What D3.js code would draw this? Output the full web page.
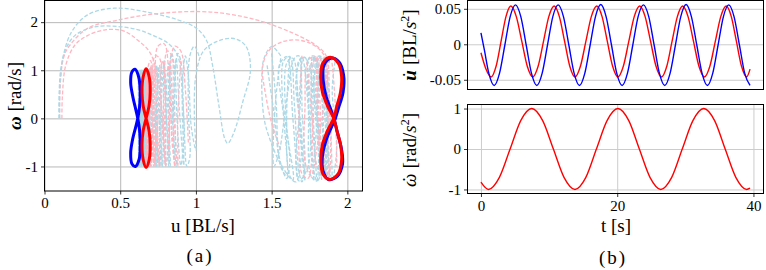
<!DOCTYPE html>
<html>
<head>
<meta charset="utf-8">
<script src="https://cdn.jsdelivr.net/npm/d3@7"></script>
<style>
  body { margin: 0; background: #fff; }
  svg text { font-family: "Liberation Serif", "Times New Roman", serif; fill: #000; }
</style>
</head>
<body>
<div id="chart"></div>
<script>
// ---------- (a) phase plane u - omega ----------
var xTicksA = [0, 0.5, 1, 1.5, 2];
var xTickLabelsA = ["0", "0.5", "1", "1.5", "2"];
var yTicksA = [-1, 0, 1, 2];
var yTickLabelsA = ["-1", "0", "1", "2"];

// limit cycles (u, omega)
var blueLeft8 = [[0.616,0],[0.628,-0.25],[0.632,-0.55],[0.625,-0.85],[0.6,-1.0],[0.578,-0.95],[0.569,-0.72],[0.583,-0.42],[0.603,-0.17],
                 [0.616,0],[0.628,0.25],[0.632,0.55],[0.622,0.86],[0.598,1.02],[0.577,0.96],[0.569,0.74],[0.584,0.44],[0.603,0.18]];
var redLeft8 = [[0.671,0],[0.69,-0.25],[0.698,-0.55],[0.692,-0.85],[0.671,-1.02],[0.651,-0.85],[0.644,-0.55],[0.652,-0.25],
                [0.671,0],[0.69,0.25],[0.698,0.55],[0.692,0.85],[0.671,1.03],[0.651,0.85],[0.644,0.55],[0.652,0.25]];
var blueRight8 = [[1.915,-0.05],[1.935,-0.3],[1.962,-0.65],[1.968,-0.95],[1.935,-1.2],[1.875,-1.27],[1.84,-1.1],[1.835,-0.8],[1.86,-0.45],[1.895,-0.18],
                  [1.915,-0.05],[1.94,0.2],[1.972,0.55],[1.975,0.9],[1.945,1.17],[1.89,1.25],[1.845,1.1],[1.84,0.8],[1.86,0.45],[1.895,0.15]];
var redRight8 = [[1.91,0],[1.93,-0.25],[1.955,-0.55],[1.962,-0.87],[1.94,-1.15],[1.883,-1.27],[1.838,-1.15],[1.825,-0.85],[1.835,-0.55],[1.87,-0.25],
                 [1.91,0],[1.93,0.25],[1.955,0.55],[1.962,0.87],[1.94,1.15],[1.886,1.27],[1.838,1.15],[1.824,0.85],[1.835,0.55],[1.87,0.25]];

// transients (dashed)
var blueTrans1 = [[0.095,0],[0.097,0.55],[0.11,1.07],[0.174,1.77],[0.284,2.15],[0.46,2.29],[0.658,2.22],[0.878,2.05],[1.0,1.88],[1.07,1.62],
  [1.11,1.1],[1.15,0.3],[1.19,-0.42],[1.21,-0.52],[1.25,-0.3],[1.31,0.35],[1.36,1.0],[1.33,1.5],[1.25,1.66],[1.14,1.6],[1.05,1.4],[1.0,0.9],
  [0.99,0],[1.0,-0.66],[0.97,-0.2],[0.95,0.9],[0.93,1.3],[0.91,0.6],[0.92,-0.98],[0.89,0.2],[0.87,1.25],[0.85,0],[0.86,-1.0],[0.83,1.2],
  [0.82,-1.0],[0.79,1.12],[0.78,-1.0],[0.75,1.08],[0.74,-1.0],[0.71,1.04],[0.705,-1.0],[0.685,1.02],[0.68,-1.0],[0.665,1.0],[0.66,-1.0],
  [0.648,1.0],[0.645,-1.0],[0.635,1.0]];
var blueTrans2 = [[0.1,0],[0.103,0.7],[0.13,1.35],[0.2,1.72],[0.33,1.9],[0.48,1.91],[0.62,1.84],[0.72,1.72],[0.82,1.55],[0.88,1.3],[0.91,0.5],
  [0.92,-0.4],[0.9,-0.98],[0.88,-0.3],[0.86,1.0],[0.84,1.35],[0.82,0.8],[0.83,-1.0],[0.8,0.3],[0.79,1.2],[0.77,0.2],[0.77,-1.0],[0.74,1.1],
  [0.73,-1.0],[0.7,1.06],[0.695,-1.0],[0.675,1.02],[0.67,-1.0],[0.655,1.0],[0.652,-1.0],[0.64,1.0],[0.638,-1.0],[0.628,1.0]];
var blueTrans3 = [[0.66,1.0],[0.655,-1.0],[0.645,1.0],[0.64,-1.0],[0.635,1.0],[0.63,-1.0],[0.625,1.0],[0.622,-1.0],[0.62,1.0]];
var blueTrans4 = [[1.56,1.3],[1.5,1.49],[1.45,1.25],[1.435,0.8],[1.45,0],[1.49,-0.45],[1.56,-0.95],[1.64,-1.28],[1.6,-0.2],[1.6,1.15],
  [1.64,1.25],[1.68,0.2],[1.72,-1.3],[1.68,0],[1.68,1.2],[1.72,1.27],[1.75,0],[1.78,-1.3],[1.75,0],[1.75,1.27],[1.79,1.28],[1.8,0],
  [1.83,-1.28],[1.8,0],[1.8,1.28],[1.84,1.26],[1.86,0],[1.87,-1.27]];
var blueTrans5 = [[1.5,1.35],[1.53,0.3],[1.55,-0.8],[1.6,-1.25],[1.62,-0.9],[1.57,0.5],[1.58,1.2],[1.62,1.28],[1.65,0.3],[1.68,-1.1],
  [1.7,-1.32],[1.72,-1.0],[1.7,0.3],[1.71,1.27],[1.75,1.1],[1.78,-0.3],[1.8,-1.28],[1.81,-0.9],[1.78,0.5],[1.78,1.28],[1.82,1.0],
  [1.84,-0.6],[1.86,-1.27],[1.86,-0.5],[1.84,0.8],[1.85,1.27],[1.88,0.5],[1.9,-1.26]];
var blueTrans6 = [[1.56,1.25],[1.53,0.5],[1.51,-0.6],[1.515,-1.0],[1.55,-0.7],[1.6,0.4],[1.65,1.25],[1.68,1.3],[1.69,0.4],[1.66,-0.9],
  [1.68,-1.3],[1.74,-1.0],[1.76,0.3],[1.77,1.28],[1.8,1.1],[1.8,0],[1.78,-1.1],[1.8,-1.3],[1.85,-0.9],[1.86,0.4],[1.84,1.26]];
var blueTrans7 = [[1.02,1.3],[0.99,1.5],[0.96,1.3],[0.95,0.2],[0.96,-0.8],[0.94,-1.0],[0.92,0],[0.9,1.2],[0.88,1.35],[0.86,0.5],[0.87,-1.0],
  [0.84,0.2],[0.82,1.15],[0.8,0.2],[0.8,-1.0],[0.77,0.3],[0.76,1.1],[0.74,0.2],[0.75,-1.0],[0.72,0.3],[0.71,1.05],[0.695,0],[0.7,-1.0],
  [0.68,0.2],[0.675,1.0],[0.66,0],[0.665,-1.0],[0.65,0],[0.645,1.0]];
var blueTrans8 = [[1.62,1.3],[1.6,0.2],[1.62,-1.2],[1.66,-1.32],[1.7,-0.5],[1.66,0.8],[1.7,1.28],[1.74,0.3],[1.76,-1.2],[1.8,-1.3],
  [1.82,-0.6],[1.78,0.8],[1.82,1.28],[1.86,0.6],[1.88,-1.0],[1.9,-1.27],[1.93,-0.6],[1.9,0.6],[1.92,1.2]];
var blueTrans9 = [[1.47,1.1],[1.52,0],[1.56,-1.0],[1.6,-1.2],[1.58,0],[1.55,1.1],[1.6,1.28],[1.64,0],[1.67,-1.25]];

var pinkTrans1 = [[0.1,0],[0.102,0.6],[0.125,1.25],[0.163,1.5],[0.284,1.87],[0.48,2.04],[0.724,2.17],[1.03,2.22],[1.25,2.15],[1.47,1.98],
  [1.69,1.7],[1.8,1.5],[1.86,1.3],[1.88,0.6],[1.87,-0.5],[1.84,-1.2],[1.8,-1.0],[1.77,0],[1.77,1.1],[1.8,1.27],[1.83,0.5],[1.85,-0.8],
  [1.86,-1.25],[1.84,-0.9],[1.81,0.3],[1.82,1.2],[1.85,1.27],[1.87,0.3],[1.88,-1.25]];
var pinkTrans2 = [[0.115,0],[0.118,0.45],[0.14,1.1],[0.2,1.52],[0.284,1.72],[0.4,1.84],[0.52,1.82],[0.614,1.63],[0.7,1.35],[0.76,0.6],
  [0.79,-0.5],[0.8,-0.98],[0.82,-0.5],[0.8,0.8],[0.78,1.2],[0.76,0.6],[0.76,-1.0],[0.74,0.2],[0.73,1.1],[0.715,0.2],[0.72,-1.0],[0.7,0.3],
  [0.695,1.05],[0.685,0.2],[0.69,-1.0],[0.675,0],[0.672,1.02],[0.67,-1.0]];
var pinkTrans3 = [[0.95,-0.5],[0.93,0.6],[0.9,1.4],[0.86,1.5],[0.83,1.0],[0.84,-0.2],[0.86,-1.0],[0.84,-0.4],[0.82,1.0],[0.79,1.55],
  [0.75,1.5],[0.73,1.0],[0.74,-0.5],[0.76,-1.0],[0.74,-0.4],[0.72,0.8],[0.7,1.2],[0.68,1.0],[0.69,-0.3],[0.7,-1.0],[0.685,-0.2],
  [0.675,1.03],[0.665,0.3],[0.672,-1.0]];
var pinkTrans4 = [[1.56,-0.65],[1.5,-0.1],[1.46,0.5],[1.44,1.05],[1.48,1.4],[1.56,1.58],[1.65,1.63],[1.74,1.58],[1.82,1.42],[1.86,1.2],
  [1.85,0.4],[1.8,-0.6],[1.76,-1.2],[1.72,-0.9],[1.72,0.2],[1.74,1.2],[1.78,1.27],[1.8,0.4],[1.82,-0.8],[1.83,-1.27],[1.82,-0.8],
  [1.8,0.4],[1.81,1.27],[1.85,1.0],[1.87,-0.5],[1.88,-1.27]];
var pinkTrans5 = [[0.9,1.2],[0.88,0],[0.88,-1.0],[0.85,0.3],[0.84,1.3],[0.81,1.4],[0.79,0.5],[0.8,-1.0],[0.77,0.2],[0.76,1.25],[0.73,1.3],
  [0.72,0.2],[0.73,-1.0],[0.71,0],[0.705,1.1],[0.69,0.4],[0.7,-1.0],[0.685,0],[0.68,1.03],[0.67,0],[0.675,-1.0]];
var pinkTrans6 = [[1.7,1.3],[1.68,0],[1.7,-1.15],[1.74,-1.25],[1.77,-0.3],[1.75,1.0],[1.79,1.28],[1.82,0.3],[1.84,-1.2],[1.87,-1.25],
  [1.89,-0.3],[1.87,0.9],[1.89,1.27],[1.92,0.3],[1.93,-1.0]];

// ---------- (b) time histories ----------
var xTicksB = [0, 20, 40];
var xTickLabelsB = ["0", "20", "40"];
var yTicksU = [-0.05, 0, 0.05];
var yTickLabelsU = ["-0.05", "0", "0.05"];
var yTicksW = [-1, 0, 1];
var yTickLabelsW = ["-1", "0", "1"];

var tBlueU = [0,0.5,1.16,1.94,2.72,3.51,4.29,5.07,5.85,6.64,7.42,8.2,8.98,9.77,10.55,11.33,12.11,12.9,13.68,14.46,15.24,16.03,16.81,17.59,
  18.37,19.16,19.94,20.72,21.5,22.29,23.07,23.85,24.63,25.42,26.2,26.98,27.76,28.55,29.33,30.11,30.89,31.68,32.46,33.24,34.02,34.81,
  35.59,36.37,37.15,37.94,38.72,39.5];
var blueU = [0.016,-0.008,-0.041,
  -0.058,-0.041,-0.001,0.039,0.0555,0.039,-0.001,-0.041,
  -0.058,-0.041,-0.001,0.039,0.0555,0.039,-0.001,-0.041,
  -0.058,-0.041,-0.001,0.039,0.056,0.039,-0.001,-0.041,
  -0.058,-0.041,-0.001,0.039,0.0555,0.039,-0.001,-0.041,
  -0.058,-0.041,-0.001,0.039,0.056,0.039,-0.001,-0.041,
  -0.058,-0.041,-0.001,0.039,0.0555,0.039,-0.001,-0.041,
  -0.058];
var tRedU = [0,0.7,1.5,2.22,2.95,3.67,4.39,5.19,6.0,6.8,7.6,8.39,9.18,9.96,10.75,11.51,12.28,13.04,13.8,14.6,15.4,16.2,17.0,17.78,18.55,
  19.33,20.1,20.9,21.7,22.5,23.3,24.1,24.9,25.7,26.5,27.28,28.05,28.83,29.6,30.4,31.2,32.0,32.8,33.6,34.4,35.2,36.0,36.75,37.5,38.25,39.0,39.5];
var redU = [-0.012,-0.034,
  -0.046,-0.031,0.004,0.039,0.054,0.039,0.004,-0.031,
  -0.046,-0.031,0.004,0.039,0.054,0.039,0.004,-0.031,
  -0.046,-0.031,0.004,0.039,0.054,0.039,0.004,-0.031,
  -0.046,-0.031,0.004,0.039,0.054,0.039,0.004,-0.031,
  -0.046,-0.031,0.004,0.039,0.054,0.039,0.004,-0.031,
  -0.046,-0.031,0.004,0.039,0.054,0.039,0.004,-0.031,
  -0.046,-0.035];
var tRedW = [0,1.1,2.69,4.28,5.86,7.45,9.04,10.63,12.21,13.8,15.38,16.95,18.53,20.1,21.68,23.25,24.83,26.4,27.98,29.55,31.13,32.7,34.28,
  35.85,37.43,39.0,39.5];
var redW = [-0.82,-1,-0.707,0,0.707,1,0.707,0,-0.707,-1,-0.707,0,0.707,1,0.707,0,-0.707,-1,-0.707,0,0.707,1,0.707,0,-0.707,-1,-0.97];

// ---------- drawing ----------
var svg = d3.select("#chart").append("svg").attr("width", 766).attr("height", 270);
var defs = svg.append("defs");

function styleAxis(g, size) {
    g.select(".domain").remove();
    g.selectAll(".tick line").attr("stroke", "#000").attr("stroke-width", 0.8);
    g.selectAll(".tick text").attr("font-size", size);
}
function gridStyle(g, col) {
    g.select(".domain").remove();
    g.selectAll(".tick line").attr("stroke", col).attr("stroke-width", 1);
}
function clip(id, x0, y0, x1, y1) {
    defs.append("clipPath").attr("id", id).append("rect")
        .attr("x", x0).attr("y", y0).attr("width", x1 - x0).attr("height", y1 - y0);
}

// panel (a)
var A = {x0: 44.5, x1: 362.5, y0: 0.5, y1: 191};
var xA = d3.scaleLinear().domain([0, 2.1]).range([A.x0, A.x1]);
var yA = d3.scaleLinear().domain([-1.51, 2.45]).range([A.y1, A.y0]);
clip("clipA", A.x0, A.y0, A.x1, A.y1);

svg.append("g").attr("transform", "translate(0," + A.y1 + ")")
    .call(d3.axisBottom(xA).tickValues(xTicksA).tickSize(-(A.y1 - A.y0)).tickFormat(""))
    .call(gridStyle, "#b8b8b8");
svg.append("g").attr("transform", "translate(" + A.x0 + ",0)")
    .call(d3.axisLeft(yA).tickValues(yTicksA).tickSize(-(A.x1 - A.x0)).tickFormat(""))
    .call(gridStyle, "#b8b8b8");

var gA = svg.append("g").attr("clip-path", "url(#clipA)");
var lineA = d3.line().x(function (d) { return xA(d[0]); }).y(function (d) { return yA(d[1]); })
    .curve(d3.curveCatmullRom.alpha(0.5));
var loopA = d3.line().x(function (d) { return xA(d[0]); }).y(function (d) { return yA(d[1]); })
    .curve(d3.curveCatmullRomClosed.alpha(0.5));

var lb = "#add8e6", lp = "#ffb6c1";
var dashed = [
    [blueTrans1, lb], [pinkTrans1, lp], [blueTrans2, lb], [pinkTrans2, lp], [blueTrans7, lb], [pinkTrans5, lp],
    [blueTrans4, lb], [pinkTrans3, lp], [blueTrans5, lb], [pinkTrans4, lp], [blueTrans8, lb], [pinkTrans6, lp],
    [blueTrans6, lb], [blueTrans9, lb], [blueTrans3, lb]
];
dashed.forEach(function (p) {
    gA.append("path").attr("d", lineA(p[0])).attr("fill", "none")
        .attr("stroke", p[1]).attr("stroke-width", 1.3).attr("stroke-dasharray", "4,2");
});
[[blueRight8, "#0000ff"], [redRight8, "#ff0000"], [blueLeft8, "#0000ff"], [redLeft8, "#ff0000"]].forEach(function (p) {
    gA.append("path").attr("d", loopA(p[0])).attr("fill", "none")
        .attr("stroke", p[1]).attr("stroke-width", 3).attr("stroke-linejoin", "round");
});

svg.append("rect").attr("x", A.x0).attr("y", A.y0).attr("width", A.x1 - A.x0).attr("height", A.y1 - A.y0)
    .attr("fill", "none").attr("stroke", "#000").attr("stroke-width", 1);
svg.append("g").attr("transform", "translate(0," + A.y1 + ")")
    .call(d3.axisBottom(xA).tickValues(xTicksA).tickSize(3.5).tickPadding(3)
        .tickFormat(function (d, i) { return xTickLabelsA[i]; }))
    .call(styleAxis, 15);
svg.append("g").attr("transform", "translate(" + A.x0 + ",0)")
    .call(d3.axisLeft(yA).tickValues(yTicksA).tickSize(3.5).tickPadding(3)
        .tickFormat(function (d, i) { return yTickLabelsA[i]; }))
    .call(styleAxis, 15);

var yl = svg.append("text").attr("transform", "translate(21,96) rotate(-90)")
    .attr("text-anchor", "middle").attr("font-size", 19);
yl.append("tspan").attr("font-style", "italic").attr("font-weight", "bold").text("ω");
yl.append("tspan").text(" [rad/s]");
svg.append("text").attr("x", 203).attr("y", 232).attr("text-anchor", "middle").attr("font-size", 19).text("u [BL/s]");
svg.append("text").attr("x", 200).attr("y", 262).attr("text-anchor", "middle").attr("font-size", 19)
    .attr("letter-spacing", 2).text("(a)");

// panel (b)
var Bt = {x0: 467.5, x1: 763.5, y0: 0.5, y1: 89.5};
var Bb = {x0: 467.5, x1: 763.5, y0: 104.5, y1: 193.5};
function pad(ext) { var d = (ext[1] - ext[0]) * 0.05; return [ext[0] - d, ext[1] + d]; }
var xB = d3.scaleLinear().domain(pad(d3.extent(tBlueU.concat(tRedU)))).range([Bt.x0, Bt.x1]);
var yU = d3.scaleLinear().domain(pad(d3.extent(blueU.concat(redU)))).range([Bt.y1, Bt.y0]);
var yW = d3.scaleLinear().domain(pad(d3.extent(redW))).range([Bb.y1, Bb.y0]);
clip("clipT", Bt.x0, Bt.y0, Bt.x1, Bt.y1);
clip("clipB", Bb.x0, Bb.y0, Bb.x1, Bb.y1);

svg.append("g").attr("transform", "translate(" + Bt.x0 + ",0)")
    .call(d3.axisLeft(yU).tickValues(yTicksU).tickSize(-(Bt.x1 - Bt.x0)).tickFormat(""))
    .call(gridStyle, "#cccccc");
svg.append("g").attr("transform", "translate(" + Bb.x0 + ",0)")
    .call(d3.axisLeft(yW).tickValues(yTicksW).tickSize(-(Bb.x1 - Bb.x0)).tickFormat(""))
    .call(gridStyle, "#cccccc");
svg.append("g").attr("transform", "translate(0," + Bb.y1 + ")")
    .call(d3.axisBottom(xB).tickValues(xTicksB).tickSize(-(Bb.y1 - Bb.y0)).tickFormat(""))
    .call(gridStyle, "#cccccc");

function tline(ys, ts) {
    return d3.line().x(function (d, i) { return xB(ts[i]); }).y(function (d) { return ys(d); })
        .curve(d3.curveMonotoneX);
}
var gT = svg.append("g").attr("clip-path", "url(#clipT)");
gT.append("path").attr("d", tline(yU, tRedU)(redU)).attr("fill", "none").attr("stroke", "#ff0000").attr("stroke-width", 1.4);
gT.append("path").attr("d", tline(yU, tBlueU)(blueU)).attr("fill", "none").attr("stroke", "#0000ff").attr("stroke-width", 1.4);
var gB = svg.append("g").attr("clip-path", "url(#clipB)");
gB.append("path").attr("d", tline(yW, tRedW)(redW)).attr("fill", "none").attr("stroke", "#ff0000").attr("stroke-width", 1.4);

[Bt, Bb].forEach(function (b) {
    svg.append("rect").attr("x", b.x0).attr("y", b.y0).attr("width", b.x1 - b.x0).attr("height", b.y1 - b.y0)
        .attr("fill", "none").attr("stroke", "#000").attr("stroke-width", 1);
});
svg.append("g").attr("transform", "translate(" + Bt.x0 + ",0)")
    .call(d3.axisLeft(yU).tickValues(yTicksU).tickSize(3.5).tickPadding(3)
        .tickFormat(function (d, i) { return yTickLabelsU[i]; }))
    .call(styleAxis, 15);
svg.append("g").attr("transform", "translate(" + Bb.x0 + ",0)")
    .call(d3.axisLeft(yW).tickValues(yTicksW).tickSize(3.5).tickPadding(3)
        .tickFormat(function (d, i) { return yTickLabelsW[i]; }))
    .call(styleAxis, 15);
svg.append("g").attr("transform", "translate(0," + Bb.y1 + ")")
    .call(d3.axisBottom(xB).tickValues(xTicksB).tickSize(3.5).tickPadding(3)
        .tickFormat(function (d, i) { return xTickLabelsB[i]; }))
    .call(styleAxis, 15);

// rotated y label with a dot over the symbol
function dotLabel(cx, cy, sym, bold, back, unit) {
    var t = svg.append("text").attr("transform", "translate(" + cx + "," + cy + ") rotate(-90)")
        .attr("text-anchor", "middle").attr("font-size", 19);
    t.append("tspan").attr("font-style", "italic").attr("font-weight", bold ? "bold" : "normal").text(sym);
    t.append("tspan").attr("dx", -back).text("\u02D9");
    t.append("tspan").attr("dx", back - 6).text(" [" + unit + "/");
    t.append("tspan").attr("font-style", "italic").text("s");
    t.append("tspan").attr("font-size", 12).attr("dy", -7).text("2");
    t.append("tspan").attr("dy", 7).text("]");
}
dotLabel(416, 45, "u", true, 8, "BL");
dotLabel(416, 150, "ω", false, 9, "rad");
svg.append("text").attr("x", 616).attr("y", 232).attr("text-anchor", "middle").attr("font-size", 19).text("t [s]");
svg.append("text").attr("x", 613).attr("y", 264).attr("text-anchor", "middle").attr("font-size", 19)
    .attr("letter-spacing", 2).text("(b)");
</script>
</body>
</html>
